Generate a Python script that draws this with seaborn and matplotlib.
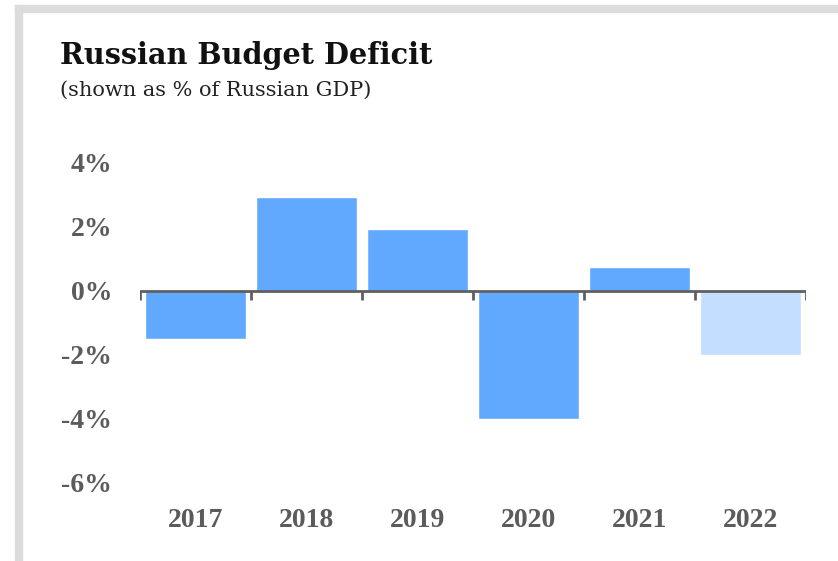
import matplotlib.pyplot as plt
import matplotlib.patches as mpatches
import pandas as pd
import seaborn as sns

# Data
years = ["2017", "2018", "2019", "2020", "2021", "2022"]
deficit = [-1.5, 2.93, 1.93, -4.0, 0.75, -2.0]
bar_colors = ["#61a9ff", "#61a9ff", "#61a9ff", "#61a9ff", "#61a9ff", "#c3defe"]
y_ticks = [4, 2, 0, -2, -4, -6]
y_labels = ["4%", "2%", "0%", "-2%", "-4%", "-6%"]

df = pd.DataFrame({"year": years, "value": deficit})

sns.set_theme(style="white")
plt.rcParams["font.family"] = ["Liberation Serif", "DejaVu Serif"]

fig = plt.figure(figsize=(8.38, 5.61), dpi=100)
ax = fig.add_axes([140 / 838, (561 - 483) / 561, 666 / 838, 320 / 561])

sns.barplot(data=df, x="year", y="value", hue="year", palette=bar_colors,
            legend=False, width=0.91, saturation=1, ax=ax)

ax.set_ylim(-6, 4)
ax.set_xlim(-0.5, len(years) - 0.5)
ax.set_yticks(y_ticks)
ax.set_yticklabels(y_labels)
ax.set_xlabel("")
ax.set_ylabel("")
ax.tick_params(axis="both", length=0, labelsize=20, labelcolor="#5b5b5b")
ax.tick_params(axis="y", pad=20)
ax.tick_params(axis="x", pad=18)
for lbl in ax.get_xticklabels() + ax.get_yticklabels():
    lbl.set_fontfamily("Liberation Serif")
    lbl.set_fontweight("bold")
sns.despine(ax=ax, left=True, bottom=True)

# zero line with boundary ticks
ax.axhline(0, color="#5f5f5f", lw=2, zorder=3)
ax.vlines([i - 0.5 for i in range(len(years) + 1)], -0.28, 0,
          color="#5f5f5f", lw=2, zorder=3)

# light gray frame at top and left
fig.patches.append(mpatches.Rectangle((15 / 838, (561 - 12) / 561), 1, 7 / 561,
                                      transform=fig.transFigure, color="#dcdcdc", zorder=0))
fig.patches.append(mpatches.Rectangle((15 / 838, 0), 7 / 838, (561 - 5) / 561,
                                      transform=fig.transFigure, color="#dcdcdc", zorder=0))

fig.text(60 / 838, 1 - 56 / 561, "Russian Budget Deficit", fontsize=20.7,
         fontweight="bold", family="DejaVu Serif", color="#111111",
         va="center", ha="left")
fig.text(60 / 838, 1 - 90 / 561, "(shown as % of Russian GDP)", fontsize=15,
         family="DejaVu Serif", color="#222222", va="center", ha="left")

fig.savefig("out.png", dpi=100)
